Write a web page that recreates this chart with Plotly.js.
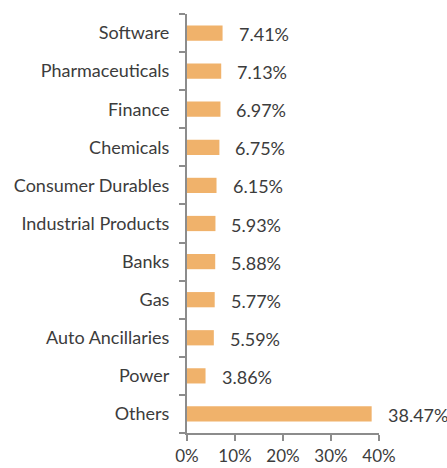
<!DOCTYPE html>
<html><head><meta charset="utf-8">
<script src="https://cdn.plot.ly/plotly-3.0.1.min.js"></script>
<style>html,body{margin:0;padding:0;background:#fff}#chart{width:447px;height:468px}</style>
</head><body><div id="chart"></div>
<script>
const categories = ["Software","Pharmaceuticals","Finance","Chemicals","Consumer Durables","Industrial Products","Banks","Gas","Auto Ancillaries","Power","Others"];
const values = [7.41,7.13,6.97,6.75,6.15,5.93,5.88,5.77,5.59,3.86,38.47];
const xTickVals = [0,10,20,30,40];
const xTickText = ["0%","10%","20%","30%","40%"];

const cats = categories.slice().reverse();
const vals = values.slice().reverse();
const fontFam = "Lato, 'Open Sans', sans-serif";
const txtColor = "#3c3c3c";

const trace = {
  type: "bar", orientation: "h",
  y: cats, x: vals,
  marker: {color: "#F0B26B"},
  width: 0.4,
  hoverinfo: "none"
};
const annotations = cats.map((c,i)=>({
  x: vals[i], y: c, xref: "x", yref: "y",
  text: vals[i].toFixed(2) + "%",
  showarrow: false, xanchor: "left", yanchor: "middle", xshift: 14, yshift: -1,
  font: {family: fontFam, size: 18, color: txtColor}
}));
const layout = {
  width: 447, height: 468,
  margin: {l: 187, r: 68, t: 14, b: 35, pad: 0},
  paper_bgcolor: "#fff", plot_bgcolor: "#fff",
  font: {family: fontFam, size: 18, color: txtColor},
  showlegend: false,
  bargap: 0.6,
  xaxis: {
    range: [0, 40], tickvals: xTickVals, ticktext: xTickText,
    showgrid: false, zeroline: false, showline: true, linecolor: "#8c8c8c", linewidth: 2,
    ticks: "outside", ticklen: 6, tickwidth: 2, tickcolor: "#8c8c8c",
    ticklabelstandoff: 1, tickfont: {family: fontFam, size: 17, color: txtColor}, fixedrange: true
  },
  yaxis: {
    type: "category", showgrid: false, zeroline: false, showline: true, linecolor: "#8c8c8c", linewidth: 2,
    ticks: "outside", ticklen: 6, tickwidth: 2, tickcolor: "#8c8c8c", tickson: "boundaries",
    ticklabelstandoff: 12, fixedrange: true
  },
  annotations: annotations
};
Plotly.newPlot("chart", [trace], layout, {displayModeBar: false, staticPlot: true});
</script></body></html>
